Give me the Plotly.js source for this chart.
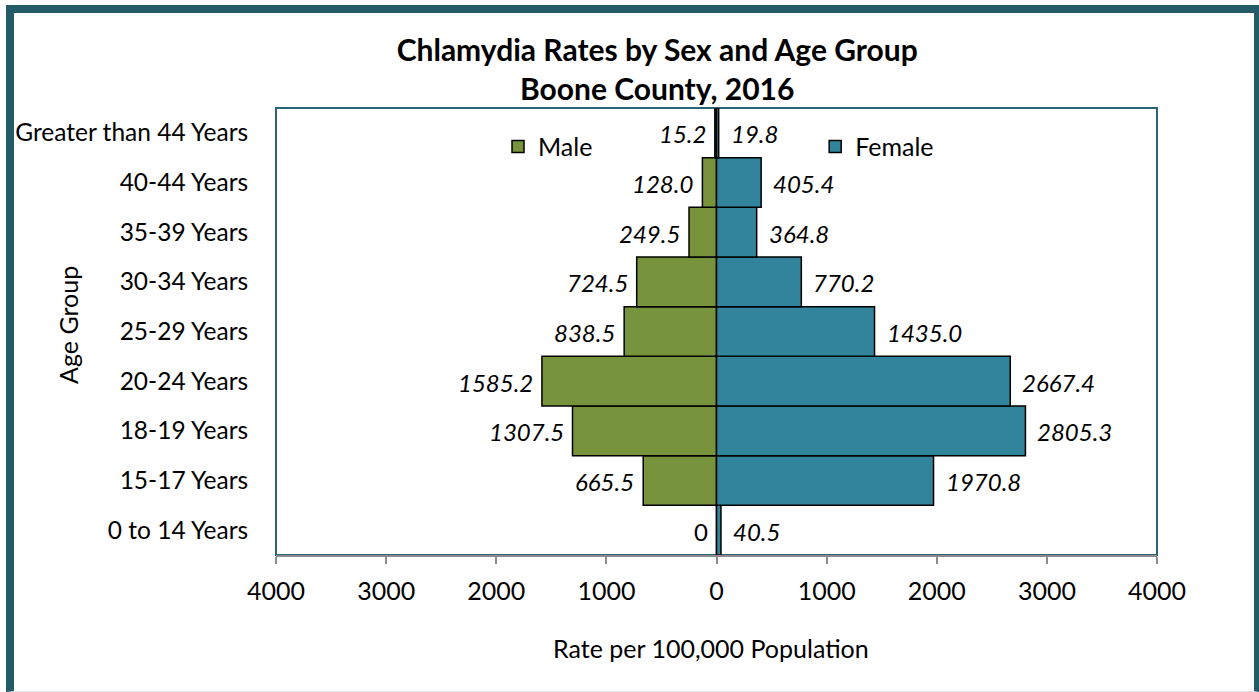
<!DOCTYPE html>
<html>
<head>
<meta charset="utf-8">
<script src="https://cdn.plot.ly/plotly-3.0.1.min.js"></script>
<style>
  html, body { margin: 0; padding: 0; background: #ffffff; }
  #wrap { position: relative; width: 1259px; height: 692px; overflow: hidden; }
  #chart { position: absolute; left: 0; top: 0; width: 1259px; height: 692px; }
  #frame { position: absolute; left: 6px; top: 5px; right: 0px; bottom: 0px;
           border-left: 8px solid #245b69; border-top: 8px solid #245b69; border-right: 5px solid #245b69;
           border-bottom: 1px solid #dfe6e8; pointer-events: none; box-sizing: border-box; }
</style>
</head>
<body>
<div id="wrap">
  <div id="chart"></div>
  <div id="frame"></div>
</div>
<script>
const categories = ['0 to 14 Years', '15-17 Years', '18-19 Years', '20-24 Years', '25-29 Years',
                    '30-34 Years', '35-39 Years', '40-44 Years', 'Greater than 44 Years'];
const maleRates = [0, 665.5, 1307.5, 1585.2, 838.5, 724.5, 249.5, 128.0, 15.2];
const femaleRates = [40.5, 1970.8, 2805.3, 2667.4, 1435.0, 770.2, 364.8, 405.4, 19.8];
const maleLabels = ['0', '665.5', '1307.5', '1585.2', '838.5', '724.5', '249.5', '128.0', '15.2'];
const femaleLabels = ['40.5', '1970.8', '2805.3', '2667.4', '1435.0', '770.2', '364.8', '405.4', '19.8'];
const tickValues = [-4000, -3000, -2000, -1000, 0, 1000, 2000, 3000, 4000];
const tickLabels = ['4000', '3000', '2000', '1000', '0', '1000', '2000', '3000', '4000'];

const FONT = 'Lato, "Open Sans", sans-serif';
const maleColor = '#77933c';
const femaleColor = '#31849b';

const traces = [
  {
    type: 'bar', orientation: 'h', name: 'Male',
    y: categories, x: maleRates.map(v => -v),
    marker: { color: maleColor, line: { color: '#000000', width: 1.5 } },
    hoverinfo: 'skip', legend: 'legend'
  },
  {
    type: 'bar', orientation: 'h', name: 'Female',
    y: categories, x: femaleRates,
    marker: { color: femaleColor, line: { color: '#000000', width: 1.5 } },
    hoverinfo: 'skip', legend: 'legend2'
  }
];

const annotations = [];
categories.forEach((c, i) => {
  annotations.push({
    x: -maleRates[i], y: c, xref: 'x', yref: 'y', text: maleLabels[i],
    showarrow: false, xanchor: 'right', yanchor: 'middle', xshift: -7, yshift: -1,
    font: { family: FONT, size: 24, color: '#000000', style: maleRates[i] === 0 ? 'normal' : 'italic' }
  });
  annotations.push({
    x: femaleRates[i], y: c, xref: 'x', yref: 'y', text: femaleLabels[i],
    showarrow: false, xanchor: 'left', yanchor: 'middle', xshift: 10, yshift: -1,
    font: { family: FONT, size: 24, color: '#000000', style: 'italic' }
  });
});
annotations.push({
  text: 'Age Group', textangle: -90, showarrow: false,
  xref: 'paper', yref: 'paper', x: -0.236, y: 0.515, xanchor: 'center', yanchor: 'middle',
  font: { family: FONT, size: 25, color: '#000000' }
});
annotations.push({
  text: 'Rate per 100,000 Population', showarrow: false,
  xref: 'paper', yref: 'paper', x: 0.494, y: -0.208, xanchor: 'center', yanchor: 'middle',
  font: { family: FONT, size: 25, color: '#000000' }
});

const layout = {
  width: 1259, height: 692,
  margin: { l: 276, r: 102, t: 108, b: 137, pad: 0 },
  paper_bgcolor: 'rgba(0,0,0,0)', plot_bgcolor: '#ffffff',
  font: { family: FONT, size: 25, color: '#000000' },
  title: {
    text: '<b>Chlamydia Rates by Sex and Age Group</b><br><b>Boone County, 2016</b>',
    font: { family: FONT, size: 30, color: '#000000' },
    x: 0.522, xref: 'container', xanchor: 'center',
    y: 0.912, yref: 'container', yanchor: 'middle'
  },
  barmode: 'relative', bargap: 0,
  showlegend: true,
  legend: {
    x: 0.252, y: 0.965, xref: 'paper', yref: 'paper', xanchor: 'left', yanchor: 'top',
    orientation: 'h', bgcolor: 'rgba(0,0,0,0)', font: { family: FONT, size: 25 }
  },
  legend2: {
    x: 0.612, y: 0.965, xref: 'paper', yref: 'paper', xanchor: 'left', yanchor: 'top',
    orientation: 'h', bgcolor: 'rgba(0,0,0,0)', font: { family: FONT, size: 25 }
  },
  xaxis: {
    range: [-4000, 4000], tickvals: tickValues, ticktext: tickLabels,
    showgrid: false, zeroline: true, zerolinecolor: '#8c8c8c', zerolinewidth: 2,
    showline: true, linecolor: '#8c8c8c', linewidth: 2, layer: 'above traces',
    ticks: 'outside', ticklen: 7, tickwidth: 2, tickcolor: '#8c8c8c',
    ticklabelstandoff: 6,
    tickfont: { family: FONT, size: 25 },
    fixedrange: true
  },
  yaxis: {
    type: 'category', categoryorder: 'array', categoryarray: categories,
    showgrid: false, zeroline: false, showline: false,
    ticks: 'outside', ticklen: 22, tickcolor: 'rgba(0,0,0,0)',
    tickfont: { family: FONT, size: 24.5 },
    fixedrange: true
  },
  shapes: [
    { type: 'rect', xref: 'paper', yref: 'paper', x0: 0, x1: 1, y0: 0, y1: 1,
      line: { color: '#2a6478', width: 2 }, layer: 'below' }
  ],
  annotations: annotations
};

Plotly.newPlot('chart', traces, layout, { displayModeBar: false, staticPlot: true });
</script>
</body>
</html>
